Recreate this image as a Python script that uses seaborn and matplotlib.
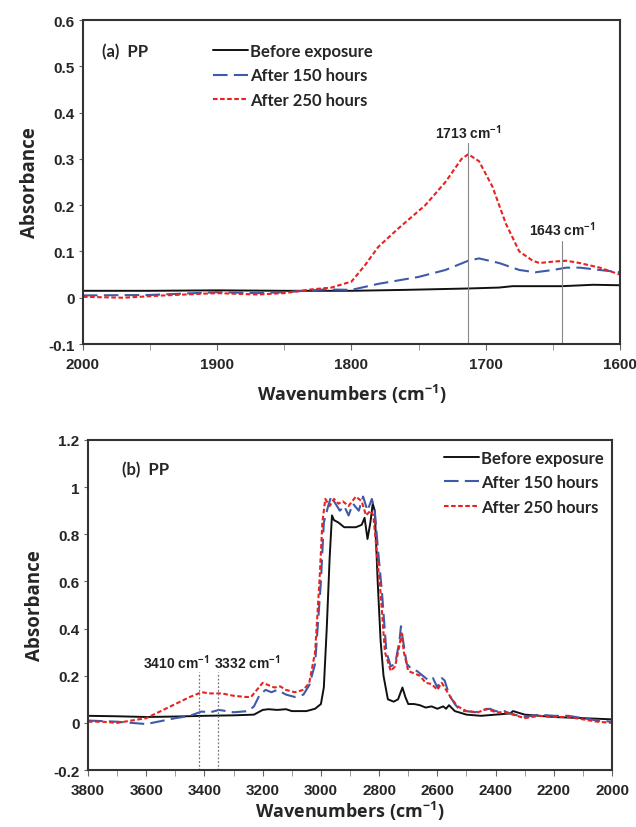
import numpy as np
import pandas as pd
import matplotlib
matplotlib.use("Agg")
import matplotlib.pyplot as plt
import seaborn as sns
from matplotlib.ticker import MultipleLocator
from matplotlib.font_manager import FontProperties

sns.set_theme(style="white")
plt.rcParams['font.family'] = ['Liberation Sans', 'DejaVu Sans']
plt.rcParams['mathtext.fontset'] = 'custom'
plt.rcParams['mathtext.rm'] = 'Open Sans:bold'
plt.rcParams['mathtext.default'] = 'rm'

series_names = ["Before exposure", "After 150 hours", "After 250 hours"]

# ---- Panel (a) data: 2000-1600 cm-1 ----
a_before_x = [2000, 1950, 1900, 1850, 1800, 1760, 1713, 1690, 1680, 1660, 1643, 1620, 1600]
a_before_y = [0.015, 0.015, 0.016, 0.015, 0.015, 0.017, 0.020, 0.022, 0.025, 0.025, 0.025, 0.028, 0.027]

a_150_x = [2000, 1950, 1900, 1870, 1850, 1820, 1800, 1780, 1750, 1730, 1713, 1705, 1690, 1675, 1663, 1650, 1640, 1630, 1615, 1600]
a_150_y = [0.005, 0.006, 0.012, 0.010, 0.012, 0.018, 0.017, 0.030, 0.045, 0.060, 0.080, 0.085, 0.075, 0.060, 0.055, 0.060, 0.065, 0.065, 0.060, 0.055]

a_250_x = [2000, 1970, 1940, 1900, 1870, 1850, 1830, 1815, 1800, 1790, 1780, 1765, 1745, 1730, 1718, 1713, 1705, 1695, 1685, 1675, 1665, 1660, 1650, 1640, 1630, 1615, 1600]
a_250_y = [0.002, 0.000, 0.005, 0.010, 0.007, 0.010, 0.018, 0.022, 0.035, 0.070, 0.110, 0.150, 0.200, 0.250, 0.300, 0.310, 0.295, 0.240, 0.160, 0.100, 0.080, 0.075, 0.078, 0.080, 0.075, 0.065, 0.050]

a_marks = [1713, 1643]
a_mark_tops = [0.334, 0.123]
a_label_y = [0.358, 0.149]
a_mark_labels = ["1713 cm$^{-1}$", "1643 cm$^{-1}$"]

# ---- Panel (b) data: 3800-2000 cm-1 ----
b_before_x = [3800, 3700, 3600, 3500, 3400, 3300, 3230, 3200, 3180, 3150, 3120, 3100, 3050, 3020, 3000, 2990, 2980, 2970, 2962,
              2955, 2940, 2920, 2900, 2880, 2860, 2850, 2840, 2830, 2822, 2815, 2805, 2795, 2785, 2770, 2750, 2735, 2720, 2710,
              2700, 2680, 2660, 2640, 2620, 2600, 2580, 2570, 2560, 2540, 2500, 2450, 2400, 2350, 2340, 2300, 2200, 2100, 2000]
b_before_y = [0.030, 0.028, 0.025, 0.027, 0.030, 0.032, 0.035, 0.055, 0.058, 0.055, 0.058, 0.050, 0.050, 0.060, 0.080, 0.150, 0.400, 0.700, 0.880,
              0.860, 0.850, 0.830, 0.830, 0.830, 0.840, 0.870, 0.780, 0.850, 0.930, 0.900, 0.600, 0.350, 0.200, 0.100, 0.090, 0.100, 0.150, 0.110,
              0.080, 0.080, 0.075, 0.065, 0.070, 0.060, 0.070, 0.060, 0.075, 0.050, 0.035, 0.030, 0.035, 0.040, 0.050, 0.035, 0.025, 0.020, 0.015]

b_150_x = [3800, 3700, 3600, 3500, 3450, 3410, 3380, 3350, 3300, 3250, 3230, 3210, 3190, 3170, 3150, 3120, 3090, 3060, 3040, 3020,
           3000, 2990, 2975, 2965, 2950, 2935, 2920, 2905, 2890, 2870, 2855, 2840, 2825, 2815, 2805, 2790, 2775, 2760, 2745, 2730,
           2725, 2718, 2705, 2690, 2670, 2650, 2630, 2615, 2600, 2585, 2575, 2560, 2540, 2520, 2500, 2470, 2440, 2420, 2400, 2370,
           2350, 2320, 2300, 2250, 2200, 2150, 2100, 2050, 2000]
b_150_y = [0.010, 0.005, -0.005, 0.020, 0.030, 0.048, 0.045, 0.055, 0.045, 0.050, 0.070, 0.120, 0.140, 0.130, 0.140, 0.120, 0.110, 0.120, 0.160, 0.250,
           0.600, 0.850, 0.920, 0.960, 0.930, 0.900, 0.920, 0.880, 0.930, 0.900, 0.960, 0.900, 0.950, 0.900, 0.750, 0.550, 0.300, 0.240, 0.250, 0.350,
           0.410, 0.350, 0.250, 0.230, 0.220, 0.200, 0.180, 0.190, 0.150, 0.190, 0.180, 0.120, 0.080, 0.050, 0.050, 0.045, 0.055, 0.060, 0.050, 0.050,
           0.040, 0.030, 0.025, 0.035, 0.030, 0.030, 0.020, 0.010, 0.005]

b_250_x = [3800, 3750, 3700, 3650, 3600, 3550, 3500, 3450, 3410, 3380, 3340, 3300, 3260, 3240, 3220, 3200, 3180, 3160, 3140, 3120,
           3090, 3060, 3040, 3020, 3005, 2995, 2985, 2970, 2955, 2940, 2925, 2905, 2880, 2860, 2845, 2830, 2820, 2810, 2795, 2780,
           2760, 2745, 2730, 2723, 2715, 2700, 2680, 2660, 2640, 2620, 2600, 2585, 2570, 2550, 2530, 2500, 2460, 2430, 2400, 2370,
           2340, 2300, 2250, 2200, 2150, 2100, 2050, 2000]
b_250_y = [0.005, 0.005, 0.000, 0.010, 0.020, 0.050, 0.080, 0.110, 0.130, 0.125, 0.125, 0.115, 0.110, 0.110, 0.140, 0.170, 0.160, 0.150, 0.155, 0.140,
           0.130, 0.140, 0.170, 0.300, 0.600, 0.850, 0.950, 0.920, 0.950, 0.930, 0.940, 0.920, 0.960, 0.940, 0.880, 0.900, 0.880, 0.750, 0.550, 0.300,
           0.220, 0.240, 0.330, 0.380, 0.300, 0.220, 0.210, 0.200, 0.170, 0.165, 0.140, 0.170, 0.140, 0.100, 0.070, 0.050, 0.045, 0.060, 0.045, 0.045,
           0.035, 0.020, 0.030, 0.025, 0.025, 0.015, 0.005, 0.000]

b_marks = [3419, 3353]
b_mark_tops = [0.216, 0.216]
b_mark_labels = ["3410 cm$^{-1}$", "3332 cm$^{-1}$"]
b_label_x = [3498, 3254]
b_label_y = 0.258

colors = {"Before exposure": "#111111", "After 150 hours": "#3f5aa8", "After 250 hours": "#e8231f"}
dashes = {"Before exposure": "", "After 150 hours": (7, 3), "After 250 hours": (2.2, 1.2)}
widths = {"Before exposure": 1.4, "After 150 hours": 1.5, "After 250 hours": 1.5}


def frame(xs, ys):
    parts = []
    for name, x, y in zip(series_names, xs, ys):
        parts.append(pd.DataFrame({"wn": x, "abs": y, "series": name}))
    return pd.concat(parts, ignore_index=True)


df_a = frame([a_before_x, a_150_x, a_250_x], [a_before_y, a_150_y, a_250_y])
df_b = frame([b_before_x, b_150_x, b_250_x], [b_before_y, b_150_y, b_250_y])

fig = plt.figure(figsize=(6.36, 8.28), dpi=100)
ax1 = fig.add_axes([0.1305, 0.5833, 0.8443, 0.3913])
ax2 = fig.add_axes([0.1384, 0.0688, 0.8239, 0.3986])

tick_font = dict(family=['Liberation Sans', 'DejaVu Sans'], weight='bold', size=11)
label_font = ['Open Sans', 'DejaVu Sans']
leg_font = dict(family=['Lato', 'DejaVu Sans'], weight='bold', size=12)


def draw(ax, df, xlim, ylim, xmaj, xmin, legend_anchor, xlabelpad):
    for name in series_names:
        sub = df[df["series"] == name]
        sns.lineplot(data=sub, x="wn", y="abs", ax=ax, color=colors[name],
                     linewidth=widths[name], label=name, sort=False,
                     estimator=None, dashes=False)
    for name, line in zip(series_names, ax.get_lines()[-3:]):
        if dashes[name]:
            line.set_dashes(dashes[name])
    ax.set_xlim(*xlim)
    ax.set_ylim(*ylim)
    ax.xaxis.set_major_locator(MultipleLocator(xmaj))
    ax.xaxis.set_minor_locator(MultipleLocator(xmin))
    ax.tick_params(axis='x', which='major', direction='out', length=4, width=0.8, bottom=True, color='#666666', pad=5)
    ax.tick_params(axis='x', which='minor', direction='out', length=4, width=0.6, bottom=True, color='#888888')
    ax.tick_params(axis='y', which='major', direction='out', length=3, width=0.8, left=True, color='#666666', pad=3)
    for lab in ax.get_xticklabels():
        lab.set_fontproperties(FontProperties(**tick_font))
    for sp in ax.spines.values():
        sp.set_color('#333333')
        sp.set_linewidth(1.5)
    ax.set_ylabel("Absorbance", fontsize=13.5, fontweight='bold', family=label_font, labelpad=6)
    ax.set_xlabel("Wavenumbers (cm$^{-1}$)", fontsize=13, fontweight='bold', family=label_font, labelpad=xlabelpad)
    ax.legend(loc='upper left', bbox_to_anchor=legend_anchor, borderaxespad=0, borderpad=0,
              frameon=False, handlelength=2.1, handletextpad=0.15,
              labelspacing=0.5, prop=leg_font)


def yfmt(v):
    s = f"{v:.1f}"
    if s in ("0.0", "-0.0"):
        return "0"
    if s.endswith(".0"):
        return s[:-2]
    return s


draw(ax1, df_a, (2000, 1600), (-0.1, 0.6), 100, 50, (0.242, 0.929), 8)
yt1 = np.round(np.arange(-0.1, 0.61, 0.1), 2)
ax1.set_yticks(yt1)
ax1.set_yticklabels([yfmt(v) for v in yt1], **tick_font)
ax1.text(1986, 0.533, "(a)  PP", fontsize=12, fontweight='bold', family=['Lato', 'DejaVu Sans'], va='center')
for x, top, ly, lab in zip(a_marks, a_mark_tops, a_label_y, a_mark_labels):
    ax1.plot([x, x], [-0.1, top], color='#888888', lw=0.8)
    ax1.text(x, ly, lab, ha='center', va='center', fontsize=10, fontweight='bold',
             family=['Liberation Sans', 'DejaVu Sans'], color='#222222')

draw(ax2, df_b, (3800, 2000), (-0.2, 1.2), 200, 100, (0.679, 0.97), 2)
yt2 = np.round(np.arange(-0.2, 1.21, 0.2), 2)
ax2.set_yticks(yt2)
ax2.set_yticklabels([yfmt(v) for v in yt2], **tick_font)
ax2.text(3683, 1.077, "(b)  PP", fontsize=12, fontweight='bold', family=['Lato', 'DejaVu Sans'], va='center')
for x, top in zip(b_marks, b_mark_tops):
    ax2.plot([x, x], [-0.2, top], color='#777777', lw=0.9, ls=(0, (1.5, 1.5)))
for lx, lab in zip(b_label_x, b_mark_labels):
    ax2.text(lx, b_label_y, lab, ha='center', va='center', fontsize=10, fontweight='bold',
             family=['Liberation Sans', 'DejaVu Sans'], color='#222222')

fig.savefig("out.png", dpi=100)
